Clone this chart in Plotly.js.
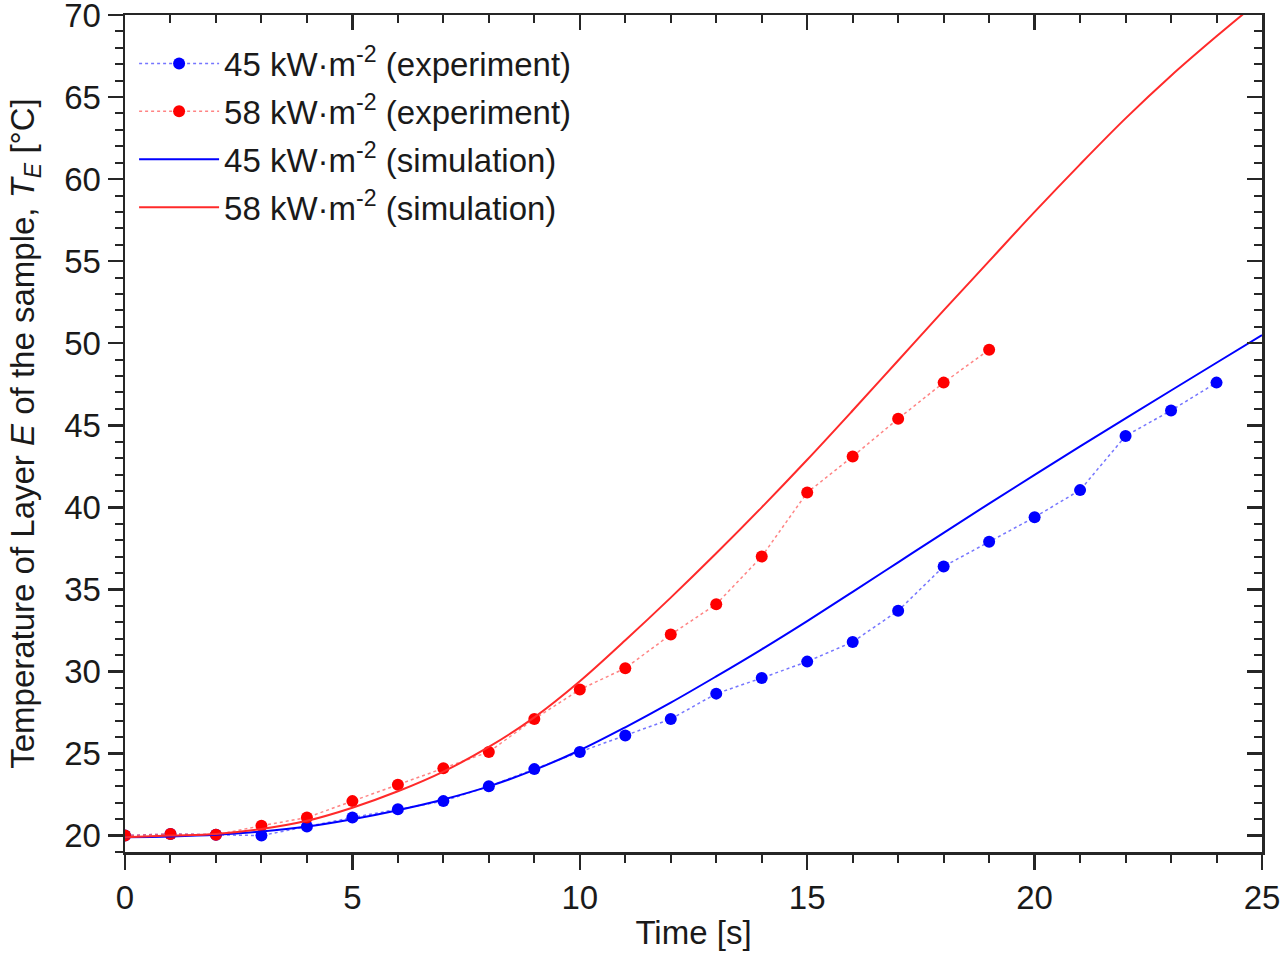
<!DOCTYPE html>
<html>
<head>
<meta charset="utf-8">
<script src="https://cdn.plot.ly/plotly-3.0.1.min.js"></script>
<style>
  html, body { margin: 0; padding: 0; background: #fff; }
  #plot { width: 1280px; height: 954px; }
</style>
</head>
<body>
<div id="plot"></div>
<script>
// measured points, one per second
const timeExp45 = [0, 1, 2, 3, 4, 5, 6, 7, 8, 9, 10, 11, 12, 13, 14, 15, 16, 17, 18, 19, 20, 21, 22, 23, 24];
const exp45 = [20.0, 20.1, 20.05, 20.0, 20.55, 21.1, 21.6, 22.1, 23.0, 24.05, 25.1, 26.1, 27.1, 28.65, 29.6,
  30.6, 31.8, 33.7, 36.4, 37.9, 39.4, 41.05, 44.35, 45.9, 47.6];

const timeExp58 = [0, 1, 2, 3, 4, 5, 6, 7, 8, 9, 10, 11, 12, 13, 14, 15, 16, 17, 18, 19];
const exp58 = [20.0, 20.1, 20.05, 20.6, 21.1, 22.1, 23.1, 24.1, 25.1, 27.1, 28.9, 30.2, 32.25, 34.1, 37.0,
  40.9, 43.1, 45.4, 47.6, 49.6];

// simulation curves
const timeSim = [0, 1, 2, 3, 4, 5, 6, 7, 8, 9, 10, 11, 12, 13, 14, 15, 16, 17, 18, 19, 20, 21, 22, 23, 24, 25];
const sim45 = [19.9, 19.95, 20.05, 20.25, 20.55, 21.0, 21.55, 22.2, 23.0, 24.0, 25.2, 26.6, 28.1, 29.7, 31.35,
  33.07, 34.85, 36.65, 38.45, 40.23, 41.98, 43.71, 45.42, 47.12, 48.81, 50.49];
const sim58 = [19.9, 20.0, 20.1, 20.4, 20.9, 21.7, 22.7, 23.9, 25.4, 27.2, 29.4, 31.9, 34.5, 37.2, 40.0,
  42.9, 45.9, 48.95, 52.0, 55.0, 58.0, 60.9, 63.7, 66.3, 68.7, 71.0];

const seriesNames = [
  "45 kW·m<sup>-2</sup> (experiment)",
  "58 kW·m<sup>-2</sup> (experiment)",
  "45 kW·m<sup>-2</sup> (simulation)",
  "58 kW·m<sup>-2</sup> (simulation)",
];

const xRange = [0, 25];
const yRange = [19, 70];
const yTicks = [20, 25, 30, 35, 40, 45, 50, 55, 60, 65, 70];

const FONT = "Liberation Sans, Arial, sans-serif";
const FS = 33;
const AXIS_COL = "#262626";
const MAJ = 15, MIN = 8;

const traces = [
  {
    x: timeExp45, y: exp45, name: seriesNames[0], legendgroup: "a",
    type: "scatter", mode: "lines+markers",
    line: { color: "rgba(60,60,255,0.7)", width: 1.5, dash: "dot" },
    marker: { color: "blue", size: 12 },
  },
  {
    x: timeExp58, y: exp58, name: seriesNames[1], legendgroup: "b",
    type: "scatter", mode: "lines+markers",
    line: { color: "rgba(255,80,80,0.7)", width: 1.5, dash: "dot" },
    marker: { color: "red", size: 12 },
  },
  {
    x: timeSim, y: sim45, name: seriesNames[2], legendgroup: "c",
    type: "scatter", mode: "lines", line: { color: "blue", width: 2, shape: "spline" },
  },
  {
    x: timeSim, y: sim58, name: seriesNames[3], legendgroup: "d",
    type: "scatter", mode: "lines", line: { color: "#ff2a2a", width: 2, shape: "spline" },
  },
  // carrier for the mirrored top/right tick axes
  { x: [null], y: [null], xaxis: "x2", yaxis: "y2", showlegend: false, hoverinfo: "skip", type: "scatter" },
];

const layout = {
  width: 1280,
  height: 954,
  paper_bgcolor: "#fff",
  plot_bgcolor: "#fff",
  margin: { l: 125, r: 18, t: 15, b: 102 },
  font: { family: FONT, size: FS, color: "#1a1a1a" },
  showlegend: true,
  legend: {
    x: 0.008, y: 0.9755, xanchor: "left", yanchor: "top",
    bgcolor: "rgba(0,0,0,0)", borderwidth: 0,
    font: { family: FONT, size: FS, color: "#1a1a1a" },
    tracegroupgap: 2, itemwidth: 80,
  },
  xaxis: {
    range: xRange, dtick: 5, tick0: 0,
    ticks: "outside", ticklen: MAJ, tickwidth: 2.5, tickcolor: AXIS_COL,
    minor: { dtick: 1, ticks: "outside", ticklen: MIN, tickwidth: 2, tickcolor: AXIS_COL },
    showline: true, linecolor: AXIS_COL, linewidth: 2.5, mirror: true,
    showgrid: false, zeroline: false, ticklabeloverflow: "allow",
    tickfont: { size: FS },
    title: { text: "Time [s]", font: { size: FS }, standoff: 6 },
  },
  yaxis: {
    range: yRange, tickvals: yTicks,
    ticks: "outside", ticklen: MAJ, tickwidth: 2.5, tickcolor: AXIS_COL,
    minor: { dtick: 1, tick0: 0, ticks: "outside", ticklen: MIN, tickwidth: 2, tickcolor: AXIS_COL },
    showline: true, linecolor: AXIS_COL, linewidth: 2.5, mirror: true,
    showgrid: false, zeroline: false, ticklabeloverflow: "allow",
    tickfont: { size: FS },
    title: {
      text: "Temperature of Layer <i>E</i> of the sample, <i>T</i><sub><i>E</i></sub> [°C]",
      font: { size: FS }, standoff: 20,
    },
  },
  xaxis2: {
    overlaying: "x", side: "top", range: xRange, dtick: 5, tick0: 0,
    ticks: "inside", ticklen: MAJ, tickwidth: 2.5, tickcolor: AXIS_COL,
    minor: { dtick: 1, ticks: "inside", ticklen: MIN, tickwidth: 2, tickcolor: AXIS_COL },
    showticklabels: false, showgrid: false, zeroline: false, showline: false,
  },
  yaxis2: {
    overlaying: "y", side: "right", range: yRange, tickvals: yTicks,
    ticks: "inside", ticklen: MAJ, tickwidth: 2.5, tickcolor: AXIS_COL,
    minor: { dtick: 1, tick0: 0, ticks: "inside", ticklen: MIN, tickwidth: 2, tickcolor: AXIS_COL },
    showticklabels: false, showgrid: false, zeroline: false, showline: false,
  },
};

Plotly.newPlot("plot", traces, layout, { displayModeBar: false, staticPlot: true });
</script>
</body>
</html>
